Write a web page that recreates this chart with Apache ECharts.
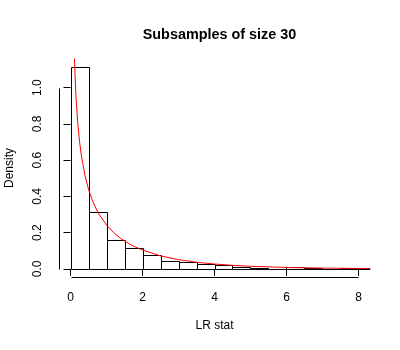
<!DOCTYPE html>
<html>
<head>
<meta charset="utf-8">
<script src="https://cdn.jsdelivr.net/npm/echarts@6/dist/echarts.min.js"></script>
<style>
  html, body { margin: 0; padding: 0; background: #fff; }
  #chart { width: 400px; height: 350px; }
</style>
</head>
<body>
<div id="chart"></div>
<script>
  // histogram: bin edges and densities
  const binLeft  = [0, 0.5, 1, 1.5, 2, 2.5, 3, 3.5, 4, 4.5, 5, 5.5, 6, 6.5, 7, 7.5, 8];
  const binRight = [0.5, 1, 1.5, 2, 2.5, 3, 3.5, 4, 4.5, 5, 5.5, 6, 6.5, 7, 7.5, 8, 8.5];
  const density  = [1.113, 0.316, 0.160, 0.116, 0.078, 0.044, 0.040, 0.028, 0.020, 0.013, 0.007, 0.002, 0.011, 0.003, 0.002, 0.003, 0.006];

  // red density curve
  const curveX = [0.1, 0.15, 0.2, 0.25, 0.3, 0.4, 0.5, 0.6, 0.7, 0.8, 1.0, 1.2, 1.4, 1.6, 1.8, 2.0, 2.5, 3, 3.5, 4, 4.5, 5, 6, 7, 8, 8.32];
  const curveY = [1.200, 0.956, 0.807, 0.704, 0.627, 0.516, 0.439, 0.382, 0.336, 0.299, 0.242, 0.200, 0.167, 0.142, 0.121, 0.104, 0.072, 0.051, 0.037, 0.027, 0.020, 0.0146, 0.0081, 0.0046, 0.0026, 0.0021];

  // tick labels
  const xTicks = [0, 2, 4, 6, 8];
  const yTicks = [0, 0.2, 0.4, 0.6, 0.8, 1.0];

  const xMin = -0.32, xMax = 8.32;
  const yMin = -0.0445, yMax = 1.1575;

  const font = "'Liberation Sans', Arial, sans-serif";

  let myChart = echarts.init(document.getElementById('chart'));

  let option = {
    backgroundColor: '#fff',
    animation: false,
    title: {
      text: 'Subsamples of size 30',
      left: 214.5,
      textAlign: 'center',
      top: 23,
      textStyle: { fontFamily: font, fontSize: 14.4, fontWeight: 'bold', color: '#000' }
    },
    grid: { left: 59, right: 30, top: 59, bottom: 73, outerBoundsMode: 'none', containLabel: false },
    xAxis: {
      type: 'value',
      min: xMin,
      max: xMax,
      name: 'LR stat',
      nameLocation: 'middle',
      nameGap: 43,
      nameTextStyle: { fontFamily: font, fontSize: 12, color: '#000' },
      axisLine: { show: false },
      axisTick: { show: true, length: 7, customValues: xTicks, lineStyle: { color: '#000' } },
      axisLabel: { customValues: xTicks, margin: 15, fontFamily: font, fontSize: 12, color: '#000' },
      splitLine: { show: false }
    },
    yAxis: {
      type: 'value',
      min: yMin,
      max: yMax,
      name: 'Density',
      nameLocation: 'middle',
      nameGap: 43,
      nameTextStyle: { fontFamily: font, fontSize: 12, color: '#000' },
      axisLine: { show: false },
      axisTick: { show: true, length: 7, customValues: yTicks, lineStyle: { color: '#000' } },
      axisLabel: {
        customValues: yTicks,
        rotate: 90,
        margin: 15,
        fontFamily: font, fontSize: 12, color: '#000',
        formatter: v => v.toFixed(1)
      },
      splitLine: { show: false }
    },
    series: [
      {
        // histogram bars
        type: 'custom',
        silent: true,
        data: binLeft.map((b, i) => [b, binRight[i], density[i]]),
        renderItem: (params, api) => {
          const p0 = api.coord([api.value(0), 0]);
          const p1 = api.coord([api.value(1), api.value(2)]);
          const x0 = Math.round(p0[0]) + 0.5, x1 = Math.round(p1[0]) + 0.5;
          const yb = Math.round(p0[1]) + 0.5, yt = Math.round(p1[1]) + 0.5;
          const cs = params.coordSys;
          const shape = echarts.graphic.clipRectByRect(
            { x: x0, y: yt, width: x1 - x0, height: yb - yt },
            { x: cs.x, y: cs.y, width: cs.width, height: cs.height }
          );
          if (!shape) return;
          return {
            type: 'rect',
            shape: shape,
            style: { fill: '#fff', stroke: '#000', lineWidth: 1 }
          };
        },
        z: 2
      },
      {
        // density curve
        type: 'line',
        data: curveX.map((x, i) => [x, curveY[i]]),
        showSymbol: false,
        silent: true,
        clip: true,
        lineStyle: { color: '#ff0000', width: 1 },
        z: 3
      },
      {
        // R-style axis lines, only from first to last tick
        type: 'custom',
        silent: true,
        clip: false,
        data: [[0, 0]],
        renderItem: (params, api) => {
          const a = api.coord([xTicks[0], yMin]);
          const b = api.coord([xTicks[xTicks.length - 1], yMin]);
          const c = api.coord([xMin, yTicks[0]]);
          const d = api.coord([xMin, yTicks[yTicks.length - 1]]);
          const yl = Math.round(a[1]) + 0.5;
          const xl = Math.round(c[0]) + 0.5;
          return {
            type: 'group',
            children: [
              { type: 'line', shape: { x1: Math.round(a[0]) + 0.5, y1: yl, x2: Math.round(b[0]) + 0.5, y2: yl }, style: { stroke: '#000', lineWidth: 1 } },
              { type: 'line', shape: { x1: xl, y1: Math.round(c[1]) + 0.5, x2: xl, y2: Math.round(d[1]) + 0.5 }, style: { stroke: '#000', lineWidth: 1 } }
            ]
          };
        },
        z: 4
      }
    ]
  };

  myChart.setOption(option);
</script>
</body>
</html>
